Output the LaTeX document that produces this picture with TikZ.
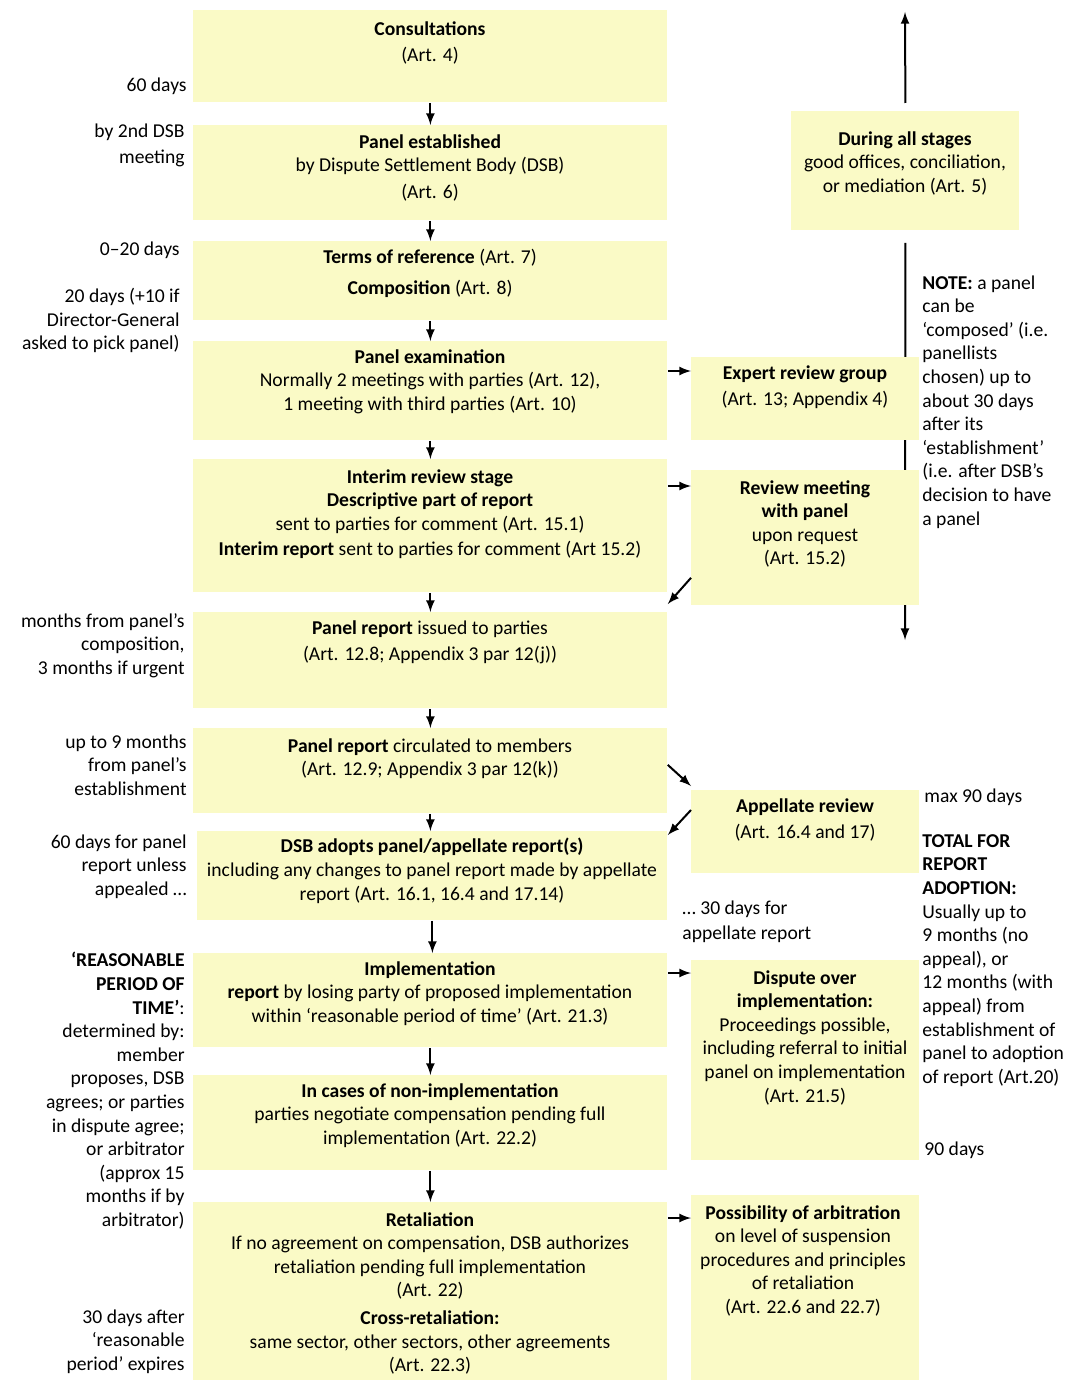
\documentclass[tikz,border=0pt]{standalone}
\usepackage{fontspec}
\setmainfont{Carlito}

\definecolor{boxfill}{RGB}{250,250,198}
\newcommand\dsfont{\fontsize{9.8}{11.8}\selectfont}

\tikzset{
  stage/.style={fill=boxfill, inner sep=0pt, anchor=north west, minimum width=237pt},
  side/.style={stage, minimum width=114pt},
  txt/.style={align=center, anchor=north, inner sep=0pt, font=\dsfont},
  lnote/.style={align=right, anchor=north east, inner sep=0pt, font=\dsfont},
  rnote/.style={align=left, anchor=north west, inner sep=0pt, font=\dsfont},
  flow/.style={-latex, line width=1pt}
}

\begin{document}
\begin{tikzpicture}[x=0.5pt,y=-0.5pt]
\useasboundingbox (0,0) rectangle (1069,1380);

% During all stages (line goes behind the side boxes)
\node[side, minimum height=59.5pt] (allst) at (791,111) {};
\coordinate (allup) at (905,12);
\coordinate (alldown) at (905,640);
\draw[flow] ([yshift=4pt]allst.north) -- (allup);
\draw[flow] ([yshift=-6pt]allst.south) -- (alldown);
\node[txt] (allT) at (905,131) {\textbf{During all stages}\\good offices, conciliation,\\or mediation (Art. 5)};

% Main stages
\node[stage, minimum height=46pt] (cons) at (193,10) {};
\node[stage, minimum height=47.5pt] (est) at (193,125) {};
\node[stage, minimum height=39.5pt] (term) at (193,241) {};
\node[stage, minimum height=49.5pt] (exam) at (193,341) {};
\node[stage, minimum height=66.5pt] (int) at (193,459) {};
\node[stage, minimum height=48pt] (iss) at (193,612) {};
\node[stage, minimum height=42.5pt] (circ) at (193,728) {};
\node[stage, minimum height=44.5pt, minimum width=235pt] (adopt) at (197,831) {};
\node[stage, minimum height=47pt] (impl) at (193,953) {};
\node[stage, minimum height=47.5pt] (non) at (193,1075) {};
\node[stage, minimum height=89pt] (ret) at (193,1202) {};

\node[txt] (consT) at (430,21) {\textbf{Consultations}\\[1.5pt](Art. 4)};
\node[txt] (estT) at (430,134) {\textbf{Panel established}\\by Dispute Settlement Body (DSB)\\[1.5pt](Art. 6)};
\node[txt] (termT) at (430,249) {\textbf{Terms of reference} (Art. 7)\\[3.5pt]\textbf{Composition} (Art. 8)};
\node[txt] (examT) at (430,349) {\textbf{Panel examination}\\Normally 2 meetings with parties (Art. 12),\\1 meeting with third parties (Art. 10)};
\node[txt] (intT) at (430,469) {\textbf{Interim review stage}\\\textbf{Descriptive part of report}\\sent to parties for comment (Art. 15.1)\\[1pt]\textbf{Interim report} sent to parties for comment (Art 15.2)};
\node[txt] (issT) at (430,620) {\textbf{Panel report} issued to parties\\[1.5pt](Art. 12.8; Appendix 3 par 12(j))};
\node[txt] (circT) at (430,738) {\textbf{Panel report} circulated to members\\(Art. 12.9; Appendix 3 par 12(k))};
\node[txt] (adoptT) at (432,838) {\textbf{DSB adopts panel/appellate report(s)}\\including any changes to panel report made by appellate\\report (Art. 16.1, 16.4 and 17.14)};
\node[txt] (implT) at (430,961) {\textbf{Implementation}\\\textbf{report} by losing party of proposed implementation\\within `reasonable period of time' (Art. 21.3)};
\node[txt] (nonT) at (430,1083) {\textbf{In cases of non-implementation}\\parties negotiate compensation pending full\\implementation (Art. 22.2)};
\node[txt] (retT) at (430,1212) {\textbf{Retaliation}\\If no agreement on compensation, DSB authorizes\\retaliation pending full implementation\\(Art. 22)\\[2pt]\textbf{Cross-retaliation:}\\same sector, other sectors, other agreements\\(Art. 22.3)};

% Side boxes
\node[side, minimum height=41.5pt] (exp) at (691,357) {};
\node[side, minimum height=67.5pt] (rev) at (691,470) {};
\node[side, minimum height=41.5pt] (app) at (691,790) {};
\node[side, minimum height=100pt] (disp) at (691,960) {};
\node[side, minimum height=92.5pt] (arb) at (691,1195) {};

\node[txt] (expT) at (805,365) {\textbf{Expert review group}\\[1.5pt](Art. 13; Appendix 4)};
\node[txt] (revT) at (805,480) {\textbf{Review meeting}\\\textbf{with panel}\\upon request\\(Art. 15.2)};
\node[txt] (appT) at (805,798) {\textbf{Appellate review}\\[1.5pt](Art. 16.4 and 17)};
\node[txt] (dispT) at (805,970) {\textbf{Dispute over}\\\textbf{implementation:}\\Proceedings possible,\\including referral to initial\\panel on implementation\\(Art. 21.5)};
\node[txt] (arbT) at (803,1205) {\textbf{Possibility of arbitration}\\on level of suspension\\procedures and principles\\of retaliation\\(Art. 22.6 and 22.7)};

% Time limits, left
\node[lnote] (n1) at (187,77) {60 days};
\node[lnote] (n2) at (185,123) {by 2nd DSB\\[1.5pt]meeting};
\node[lnote] (n3) at (180,241) {0--20 days};
\node[lnote] (n4) at (180,288) {20 days (+10 if\\Director-General\\asked to pick panel)};
\node[lnote] (n5) at (185,613) {months from panel's\\composition,\\3 months if urgent};
\node[lnote] (n6) at (187,734) {up to 9 months\\from panel's\\establishment};
\node[lnote] (n7) at (187,834) {60 days for panel\\report unless\\appealed \ldots};
\node[lnote] (n8) at (185,952) {\textbf{`REASONABLE}\\\textbf{PERIOD OF}\\\textbf{TIME'}:\\determined by:\\member\\proposes, DSB\\agrees; or parties\\in dispute agree;\\or arbitrator\\(approx 15\\months if by\\arbitrator)};
\node[lnote] (n9) at (185,1309) {30 days after\\`reasonable\\period' expires};

% Notes, right
\node[rnote] (r1) at (922,275) {\textbf{NOTE:} a panel\\can be\\`composed' (i.e.\\panellists\\chosen) up to\\about 30 days\\after its\\`establishment'\\(i.e. after DSB's\\decision to have\\a panel};
\node[rnote] (r2) at (924,788) {max 90 days};
\node[rnote] (r3) at (922,834) {\textbf{TOTAL FOR}\\\textbf{REPORT}\\\textbf{ADOPTION:}\\Usually up to\\9 months (no\\appeal), or\\12 months (with\\appeal) from\\establishment of\\panel to adoption\\of report (Art.20)};
\node[rnote] (r4) at (924,1141) {90 days};
\node[rnote] (r5) at (682,900) {\ldots{} 30 days for\\[1pt]appellate report};

% Main flow
\draw[flow] (cons.south) -- (est.north);
\draw[flow] (est.south) -- (term.north);
\draw[flow] (term.south) -- (exam.north);
\draw[flow] (exam.south) -- (int.north);
\draw[flow] (int.south) -- (iss.north);
\draw[flow] (iss.south) -- (circ.north);
\draw[flow] (circ.south) -- (circ.south |- adopt.north);
\draw[flow] (adopt.south) -- (adopt.south |- impl.north);
\draw[flow] (impl.south) -- (non.north);
\draw[flow] (non.south) -- (ret.north);

% Side arrows
\draw[flow] ([yshift=-15pt]exam.north east) -- ([yshift=-7pt]exp.north west);
\draw[flow] ([yshift=-13.5pt]int.north east) -- ([yshift=-8pt]rev.north west);
\draw[flow] ([yshift=14pt]rev.south west) -- ([yshift=4pt]iss.north east);
\draw[flow] ([yshift=3pt]circ.east) -- ([yshift=2pt]app.north west);
\draw[flow] ([yshift=-10pt]app.north west) -- ([yshift=-2pt]adopt.north east);
\draw[flow] ([yshift=-10pt]impl.north east) -- ([yshift=-6.5pt]disp.north west);
\draw[flow] ([yshift=-8pt]ret.north east) -- ([yshift=-11.5pt]arb.north west);

\end{tikzpicture}
\end{document}
